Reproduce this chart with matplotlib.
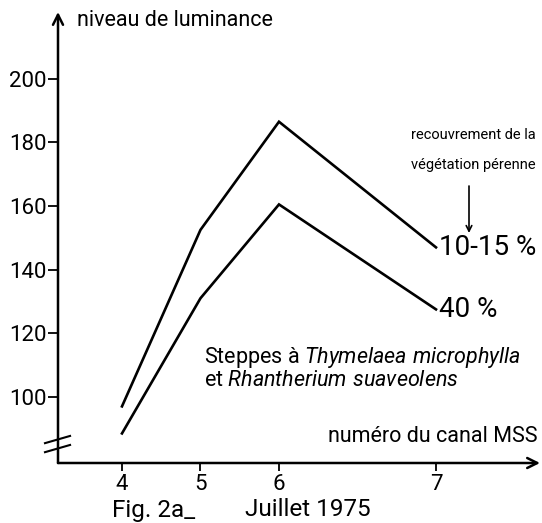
import matplotlib
matplotlib.use('Agg')
import matplotlib.pyplot as plt

plt.rcParams['font.family'] = ['Roboto', 'DejaVu Sans']
plt.rcParams['mathtext.fontset'] = 'custom'
plt.rcParams['mathtext.rm'] = 'Roboto'
plt.rcParams['mathtext.it'] = 'Roboto:italic'

# MSS band centres (micrometres) and their channel numbers
band_centre = [0.55, 0.65, 0.75, 0.95]
band_label = ['4', '5', '6', '7']

# luminance levels
lum_10_15 = [97, 152.5, 186.5, 147]
lum_40 = [88.5, 131, 160.5, 127.5]

y_ticks = [100, 120, 140, 160, 180, 200]

W, H = 542, 523
fig = plt.figure(figsize=(W / 100, H / 100), dpi=100)
ax = fig.add_axes([58 / W, 60 / H, 482 / W, 451 / H])

def fx(px):
    return px / W

def fy(py):
    return 1 - py / H

ax.plot(band_centre, lum_10_15, color='black', lw=1.9, solid_joinstyle='miter')
ax.plot(band_centre, lum_40, color='black', lw=1.9, solid_joinstyle='miter')

ax.set_xlim(0.4685, 1.0825)
ax.set_ylim(79.2, 221)

for s in ax.spines.values():
    s.set_visible(False)

ax.set_xticks(band_centre)
ax.set_xticklabels(band_label)
ax.set_yticks(y_ticks)
ax.set_yticklabels([str(v) for v in y_ticks])
ax.tick_params(axis='both', direction='out', length=6, width=1.3, labelsize=16, pad=2)
ax.tick_params(axis='y', length=7, pad=1)

# axes drawn as arrows
ax.annotate('', xy=(0, 1), xytext=(0, 0), xycoords='axes fraction',
            arrowprops=dict(arrowstyle='->', lw=1.8, color='black',
                            mutation_scale=18, shrinkA=0, shrinkB=0))
ax.annotate('', xy=(1, 0), xytext=(0, 0), xycoords='axes fraction',
            arrowprops=dict(arrowstyle='->', lw=1.8, color='black',
                            mutation_scale=18, shrinkA=0, shrinkB=0))

# axis break marks
ax.plot([-0.027, 0.025], [0.044, 0.060], transform=ax.transAxes, color='black', lw=1.5, clip_on=False)
ax.plot([-0.027, 0.025], [0.024, 0.040], transform=ax.transAxes, color='black', lw=1.5, clip_on=False)

fig.text(fx(77), fy(20), 'niveau de luminance', fontsize=15.5, va='center', ha='left')
fig.text(fx(537), fy(437), 'numéro du canal MSS', fontsize=15.5, va='center', ha='right')

fig.text(fx(473), fy(135), 'recouvrement de la', fontsize=10.5, va='center', ha='center')
fig.text(fx(473), fy(165), 'végétation pérenne', fontsize=10.5, va='center', ha='center')
ax.annotate('', xy=(fx(469), fy(233)), xytext=(fx(469), fy(186)), xycoords='figure fraction',
            arrowprops=dict(arrowstyle='->', lw=1.2, color='black', mutation_scale=10,
                            shrinkA=0, shrinkB=0))

ax.annotate('10-15 %', xy=(band_centre[-1], lum_10_15[-1]), xytext=(2, 0),
            textcoords='offset points', fontsize=20, va='center', ha='left')
ax.annotate('40 %', xy=(band_centre[-1], lum_40[-1]), xytext=(2, 0),
            textcoords='offset points', fontsize=20, va='center', ha='left')

fig.text(fx(204), fy(357), r'Steppes à $Thymelaea\ microphylla$', fontsize=15.5, va='center', ha='left')
fig.text(fx(204), fy(380), r'et $Rhantherium\ suaveolens$', fontsize=15.5, va='center', ha='left')

fig.text(fx(112), fy(510), 'Fig. 2a_', fontsize=17.5, va='center', ha='left')
fig.text(fx(245), fy(510), 'Juillet 1975', fontsize=17.5, va='center', ha='left')

fig.savefig('out.png', dpi=100)
